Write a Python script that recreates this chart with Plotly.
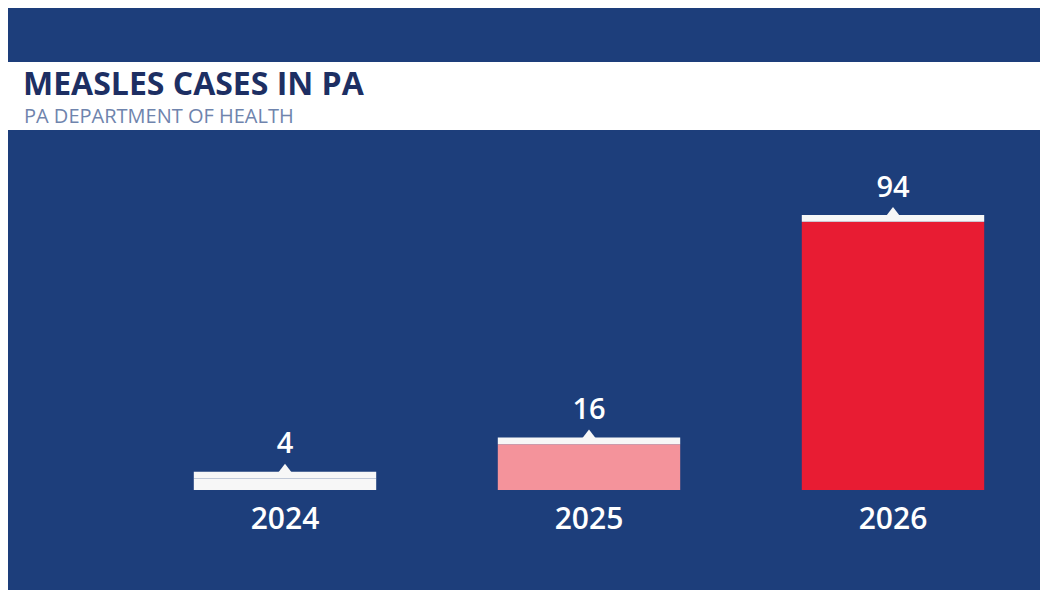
import plotly.graph_objects as go

years = ["2024", "2025", "2026"]
cases = [4, 16, 94]
colors = ["#f7f7f7", "#f4939b", "#e81c33"]
cap = 2.4
title = "MEASLES CASES IN PA"
subtitle = "PA DEPARTMENT OF HEALTH"

H = 482.0
def py(px):
    return (H - px) / H

fig = go.Figure()
fig.add_bar(x=years, y=cases, marker_color=colors, width=0.6, marker_line_width=0, hoverinfo="skip")
fig.add_bar(x=years, y=[cap]*3, base=cases, marker_color="#f7f7f7", width=0.6, marker_line_width=0, hoverinfo="skip")
fig.add_scatter(x=years, y=[c + cap for c in cases], mode="markers+text",
                marker=dict(symbol="triangle-up", size=16, color="#f7f7f7", line_width=0),
                text=[str(c) for c in cases], textposition="top center",
                textfont=dict(size=29, color="white", family="Open Sans", weight=600), hoverinfo="skip")

fig.add_shape(type="rect", xref="paper", yref="paper", x0=0, x1=1, y0=py(122), y1=py(54),
              fillcolor="white", line_width=0, layer="above")
fig.add_annotation(text="<b>" + title + "</b>", xref="paper", yref="paper", x=0.012, y=py(74),
                   xanchor="left", yanchor="middle", showarrow=False,
                   font=dict(size=32, color="#1d2f63", family="Open Sans"))
fig.add_annotation(text=subtitle, xref="paper", yref="paper", x=0.013, y=py(107),
                   xanchor="left", yanchor="middle", showarrow=False,
                   font=dict(size=20, color="#6f84ad", family="Open Sans"))

fig.update_layout(
    width=1048, height=590, barmode="overlay", showlegend=False,
    margin=dict(l=0, r=0, t=0, b=108, autoexpand=False),
    paper_bgcolor="#1d3e7b", plot_bgcolor="rgba(0,0,0,0)",
    xaxis=dict(domain=[125/1048, 1037/1048], range=[-0.5, 2.5], showgrid=False, zeroline=False,
               tickfont=dict(size=30, color="white", family="Open Sans", weight=600), ticks="", ticklen=0,
               ticklabelstandoff=8),
    yaxis=dict(range=[0, H / 2.853], visible=False),
)
fig.write_html("out.html")
